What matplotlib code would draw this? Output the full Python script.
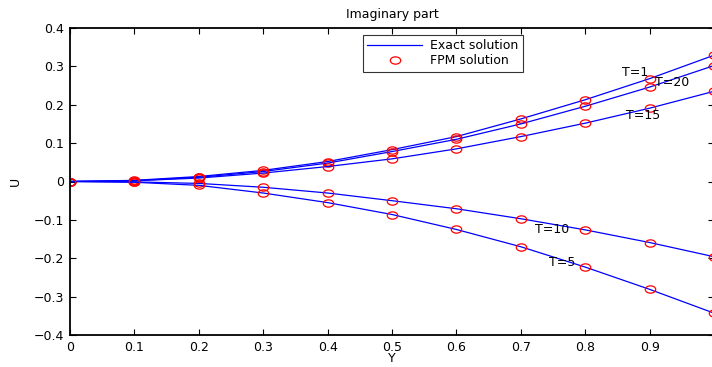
import numpy as np
import matplotlib
matplotlib.use("Agg")
import matplotlib.pyplot as plt
from matplotlib.path import Path
from matplotlib.transforms import Affine2D

plt.rcParams['font.family'] = ['DejaVu Sans']
FS = 9

Y = [0.0, 0.1, 0.2, 0.3, 0.4, 0.5, 0.6, 0.7, 0.8, 0.9, 1.0]
U_T1 = [0.0, 0.003, 0.013, 0.029, 0.052, 0.083, 0.117, 0.163, 0.213, 0.268, 0.329]
U_T20 = [0.0, 0.002, 0.011, 0.026, 0.048, 0.078, 0.110, 0.150, 0.196, 0.246, 0.302]
U_T15 = [0.0, 0.002, 0.009, 0.022, 0.039, 0.059, 0.085, 0.117, 0.152, 0.191, 0.235]
U_T10 = [0.0, -0.001, -0.005, -0.015, -0.030, -0.050, -0.071, -0.097, -0.126, -0.159, -0.196]
U_T5 = [0.0, -0.002, -0.010, -0.030, -0.055, -0.086, -0.125, -0.170, -0.223, -0.281, -0.343]

series = [U_T1, U_T20, U_T15, U_T10, U_T5]
labels = ["T=1", "T=20", "T=15", "T=10", "T=5"]
label_pos = [(0.857, 0.283), (0.908, 0.258), (0.864, 0.171), (0.722, -0.126), (0.744, -0.211)]

xticks = [0, 0.1, 0.2, 0.3, 0.4, 0.5, 0.6, 0.7, 0.8, 0.9]
xticklabels = ["0", "0.1", "0.2", "0.3", "0.4", "0.5", "0.6", "0.7", "0.8", "0.9"]
yticks = [-0.4, -0.3, -0.2, -0.1, 0, 0.1, 0.2, 0.3, 0.4]
yticklabels = ["\u22120.4", "\u22120.3", "\u22120.2", "\u22120.1", "0", "0.1", "0.2", "0.3", "0.4"]

ell = Path.unit_circle().transformed(Affine2D().scale(1.0, 0.7))

fig = plt.figure(figsize=(7.12, 3.67), dpi=100)
ax = fig.add_axes([70/712, (367-335)/367, 644/712, (335-28)/367])

for i, s in enumerate(series):
    ax.plot(Y, s, color='#0000ff', lw=0.9, label="Exact solution" if i == 0 else None)
    ax.plot(Y, s, ls='none', marker=ell, markersize=7.5, mfc='none', mec='#ff0000',
            mew=0.9, label="FPM solution" if i == 0 else None)

for lab, (x, y) in zip(labels, label_pos):
    ax.text(x, y, lab, fontsize=FS, ha='left', va='center')

ax.set_xlim(0, 1)
ax.set_ylim(-0.4, 0.4)
ax.set_xticks(xticks)
ax.set_xticklabels(xticklabels)
ax.set_yticks(yticks)
ax.set_yticklabels(yticklabels)
ax.tick_params(direction='in', top=True, right=True, labelsize=FS, length=4, width=0.8, pad=4)
for sp in ax.spines.values():
    sp.set_linewidth(1.3)
ax.set_title("Imaginary part", fontsize=FS, pad=7)
ax.set_xlabel("Y", fontsize=FS, labelpad=-1)
ax.set_ylabel("U", fontsize=FS, labelpad=9)

leg = ax.legend(loc='upper left', bbox_to_anchor=((363-70)/644, (335-35)/307), fontsize=FS,
                frameon=True, fancybox=False, edgecolor='black', borderpad=0.35,
                handlelength=4.4, handletextpad=0.6, labelspacing=0.15, borderaxespad=0)
leg.get_frame().set_linewidth(0.8)

fig.savefig("out.png", dpi=100)
